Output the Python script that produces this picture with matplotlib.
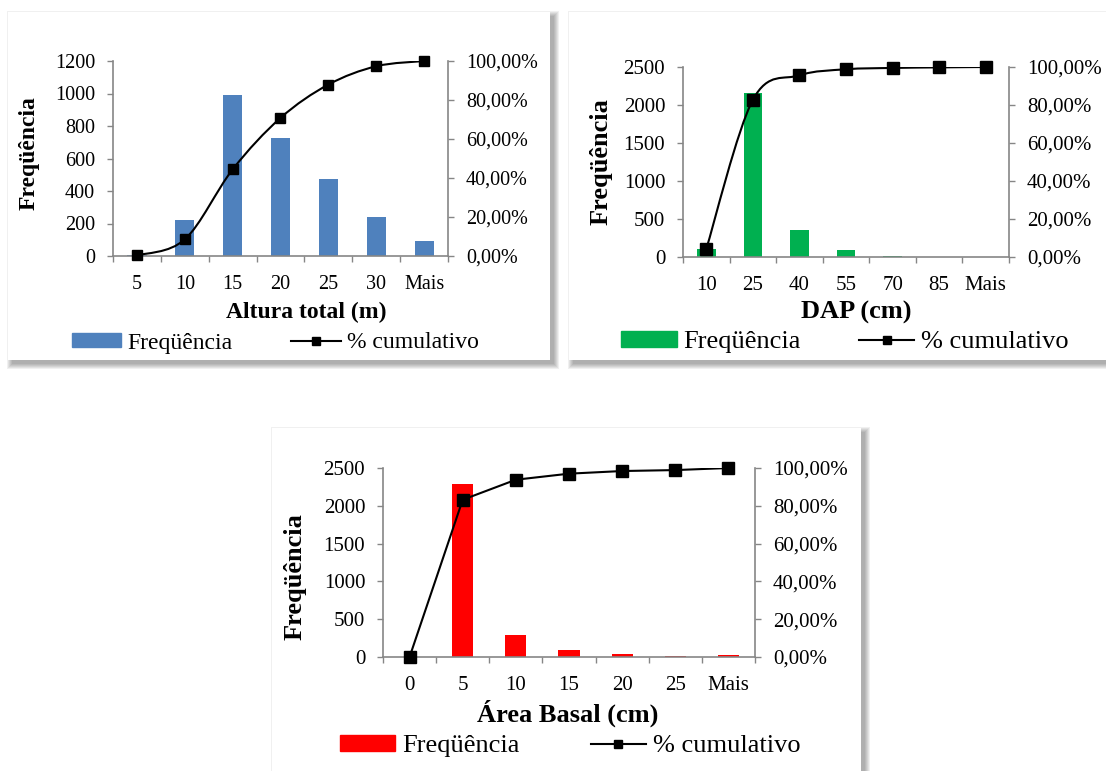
import matplotlib
matplotlib.use('Agg')
import matplotlib.pyplot as plt
from matplotlib.path import Path
from matplotlib.patches import PathPatch, Rectangle, Patch
from matplotlib.lines import Line2D

plt.rcParams['font.family'] = ['Liberation Serif', 'DejaVu Serif']

# data
altura_cat = ['5', '10', '15', '20', '25', '30', 'Mais']
altura_freq = [8, 221, 993, 727, 473, 242, 94]
altura_cum = [0.3, 8.5, 44.4, 70.8, 87.9, 97.3, 100.0]

dap_cat = ['10', '25', '40', '55', '70', '85', 'Mais']
dap_freq = [105, 2154, 359, 96, 17, 3, 1]
dap_cum = [4.2, 82.7, 95.6, 98.8, 99.5, 99.8, 100.0]

area_cat = ['0', '5', '10', '15', '20', '25', 'Mais']
area_freq = [0, 2283, 287, 93, 44, 18, 27]
area_cum = [0.0, 83.2, 93.8, 97.0, 98.4, 98.9, 100.0]

W, H = 1106, 771
fig = plt.figure(figsize=(W / 100, H / 100), dpi=100)
GREY = '#868686'


def frac(l, r, t, b):
    return [l / W, 1 - b / H, (r - l) / W, (b - t) / H]


def panel(l, r, t, b):
    # white box with a soft shadow to the lower right
    for k in range(5, -1, -1):
        fig.patches.append(Rectangle(((l + 4 - k) / W, 1 - (b + 4 + k) / H),
                                     (r - l + 2 * k) / W, (b - t + 2 * k) / H,
                                     transform=fig.transFigure, color='#000000',
                                     alpha=0.06, lw=0, zorder=-3))
    fig.patches.append(Rectangle((l / W, 1 - b / H), (r - l) / W, (b - t) / H,
                                 transform=fig.transFigure, color='white',
                                 lw=0, zorder=-2))


def smooth_path(xs, ys):
    verts = [(xs[0], ys[0])]
    codes = [Path.MOVETO]
    n = len(xs)
    for i in range(n - 1):
        x0, y0 = xs[max(i - 1, 0)], ys[max(i - 1, 0)]
        x1, y1 = xs[i], ys[i]
        x2, y2 = xs[i + 1], ys[i + 1]
        x3, y3 = xs[min(i + 2, n - 1)], ys[min(i + 2, n - 1)]
        verts += [(x1 + (x2 - x0) / 6, y1 + (y2 - y0) / 6),
                  (x2 - (x3 - x1) / 6, y2 - (y3 - y1) / 6),
                  (x2, y2)]
        codes += [Path.CURVE4] * 3
    return Path(verts, codes)


def chart(box, cats, freq, cum, color, ymax, ystep, xlabel, smooth,
          tick_fs, lab_fs, xlab_pos, ylab_pos, leg_pos, colsp, msize):
    ax = fig.add_axes(frac(*box))
    x = list(range(len(cats)))
    ax.bar(x, freq, width=0.4, color=color, zorder=2)
    ax.set_xlim(-0.5, len(cats) - 0.5)
    ax.set_ylim(0, ymax)
    ax.set_yticks(range(0, ymax + 1, ystep))
    ax.set_xticks(x)
    ax.set_xticklabels(cats)
    ax.set_xticks([i - 0.5 for i in range(len(cats) + 1)], minor=True)
    ax.tick_params(axis='x', which='major', length=0, pad=13.5, labelsize=tick_fs)
    ax.tick_params(axis='x', which='minor', length=4.3, width=1, color=GREY, direction='out')
    ax.tick_params(axis='y', length=4.3, width=1, color=GREY, pad=8.5, labelsize=tick_fs)
    for s in ['top', 'right']:
        ax.spines[s].set_visible(False)
    for s in ['left', 'bottom']:
        ax.spines[s].set_color(GREY)
        ax.spines[s].set_linewidth(1.2)

    ax2 = ax.twinx()
    ax2.set_ylim(0, 100)
    ax2.set_yticks(range(0, 101, 20))
    ax2.set_yticklabels(['%d,00%%' % v for v in range(0, 101, 20)])
    ax2.tick_params(axis='y', length=4.3, width=1, color=GREY, pad=8.5, labelsize=tick_fs)
    for s in ['top', 'left', 'bottom']:
        ax2.spines[s].set_visible(False)
    ax2.spines['right'].set_color(GREY)
    ax2.spines['right'].set_linewidth(1.2)
    if smooth:
        ax2.add_patch(PathPatch(smooth_path(x, cum), fill=False, ec='black', lw=1.5, zorder=3))
    else:
        ax2.plot(x, cum, color='black', lw=1.5, zorder=3)
    ax2.plot(x, cum, ls='none', marker='s', ms=msize, color='black', zorder=4, clip_on=False)

    ax.set_xlabel(xlabel, fontsize=lab_fs, fontweight='bold')
    ax.xaxis.set_label_coords(xlab_pos[0] / W, 1 - xlab_pos[1] / H, transform=fig.transFigure)
    ax.xaxis.label.set_va('center')
    ax.set_ylabel('Freqüência', fontsize=lab_fs, fontweight='bold')
    ax.yaxis.set_label_coords(ylab_pos[0] / W, 1 - ylab_pos[1] / H, transform=fig.transFigure)
    ax.yaxis.label.set_va('center')

    handles = [Patch(color=color),
               Line2D([], [], color='black', lw=1.5, marker='s', ms=msize * 0.8)]
    fig.legend(handles, ['Freqüência', '% cumulativo'], loc='center',
               bbox_to_anchor=(leg_pos[0] / W, 1 - leg_pos[1] / H),
               bbox_transform=fig.transFigure, ncol=2, frameon=False,
               fontsize=lab_fs, handlelength=2.1, handleheight=0.55,
               handletextpad=0.25, columnspacing=colsp, borderpad=0)
    return ax


panel(8, 550, 12, 360)
panel(569, 1112, 12, 360)
panel(272, 861, 428, 790)

chart((113, 448, 61, 256), altura_cat, altura_freq, altura_cum, '#4F81BD',
      1200, 200, 'Altura total (m)', True, 14.5, 17,
      (306, 312), (29, 153), (275, 343), 2.5, 7)
chart((683, 1009, 67, 257), dap_cat, dap_freq, dap_cum, '#00B050',
      2500, 500, 'DAP (cm)', True, 15, 19,
      (856, 312), (601, 162), (845, 342), 2.2, 8)
chart((383, 755, 468, 657), area_cat, area_freq, area_cum, '#FF0000',
      2500, 500, 'Área Basal (cm)', False, 15, 19,
      (568, 713), (295, 577), (570, 746), 2.7, 8)

fig.savefig('out.png', dpi=100)
